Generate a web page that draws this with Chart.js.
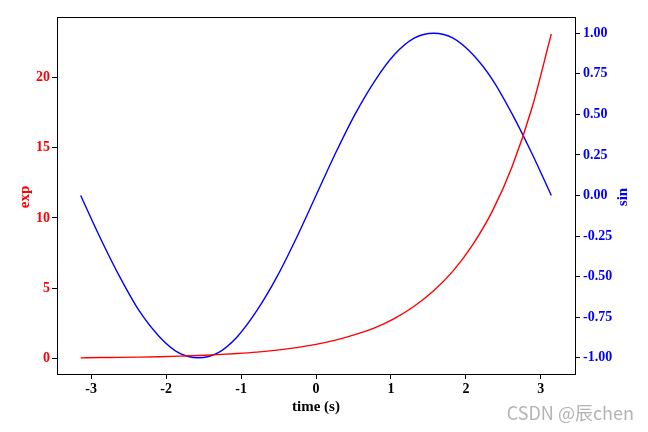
<!DOCTYPE html>
<html>
<head>
<meta charset="UTF-8" />
<script src="https://cdn.jsdelivr.net/npm/chart.js"></script>
<style>
  html, body { margin: 0; padding: 0; background: #fff; }
  #wrap { width: 648px; height: 432px; }
</style>
</head>
<body>
<div id="wrap"><canvas id="c" width="648" height="432"></canvas></div>
<script>
  // values, x in steps of 15 degrees from -pi to pi
  const timeS = [-3.14, -2.88, -2.62, -2.36, -2.09, -1.83, -1.57, -1.31, -1.05, -0.79, -0.52, -0.26, 0,
                 0.26, 0.52, 0.79, 1.05, 1.31, 1.57, 1.83, 2.09, 2.36, 2.62, 2.88, 3.14];
  const expVals = [0.04, 0.06, 0.07, 0.09, 0.12, 0.16, 0.21, 0.27, 0.35, 0.45, 0.59, 0.77, 1.0,
                   1.30, 1.69, 2.19, 2.85, 3.71, 4.81, 6.23, 8.08, 10.55, 13.7, 17.8, 23.1];
  const sinVals = [0, -0.26, -0.5, -0.71, -0.87, -0.97, -1.0, -0.97, -0.87, -0.71, -0.5, -0.26, 0,
                   0.26, 0.5, 0.71, 0.87, 0.97, 1.0, 0.97, 0.87, 0.71, 0.5, 0.26, 0];
  const xTicks = [-3, -2, -1, 0, 1, 2, 3];
  const expTicks = [0, 5, 10, 15, 20];
  const sinTicks = [-1, -0.75, -0.5, -0.25, 0, 0.25, 0.5, 0.75, 1];

  const serif = "'Liberation Serif', 'DejaVu Serif', serif";
  const tickFont = { family: serif, size: 14, weight: 'bold' };

  function pts(ys) { return timeS.map((x, i) => ({ x: x, y: ys[i] })); }

  // frame + axis titles + watermark
  const extras = {
    id: 'extras',
    afterDraw(chart) {
      const ctx = chart.ctx, a = chart.chartArea;
      ctx.save();
      ctx.strokeStyle = '#000';
      ctx.lineWidth = 1;
      ctx.strokeRect(a.left + 0.5, a.top + 0.5, a.right - a.left, a.bottom - a.top);

      ctx.textAlign = 'center';
      ctx.textBaseline = 'middle';
      ctx.font = "bold 15px " + serif;
      ctx.fillStyle = '#000';
      ctx.fillText('time (s)', (a.left + a.right) / 2, 407);

      ctx.save();
      ctx.translate(25, 197);
      ctx.rotate(-Math.PI / 2);
      ctx.fillStyle = 'red';
      ctx.fillText('exp', 0, 0);
      ctx.restore();

      ctx.save();
      ctx.translate(623, 197);
      ctx.rotate(-Math.PI / 2);
      ctx.fillStyle = 'blue';
      ctx.fillText('sin', 0, 0);
      ctx.restore();

      ctx.font = "18px 'Noto Sans CJK SC', 'Noto Sans', sans-serif";
      ctx.fillStyle = '#b4b4b4';
      ctx.textAlign = 'right';
      ctx.fillText('CSDN @辰chen', 634, 413);
      ctx.restore();
    }
  };

  new Chart(document.getElementById('c'), {
    type: 'line',
    data: {
      datasets: [
        { label: 'exp', data: pts(expVals), yAxisID: 'y', borderColor: 'red', borderWidth: 1.4,
          pointRadius: 0, cubicInterpolationMode: 'monotone' },
        { label: 'sin', data: pts(sinVals), yAxisID: 'y2', borderColor: 'blue', borderWidth: 1.4,
          pointRadius: 0, cubicInterpolationMode: 'monotone' }
      ]
    },
    options: {
      responsive: false,
      animation: false,
      layout: { padding: { top: 17, left: 0, right: 0, bottom: 0 } },
      plugins: { legend: { display: false }, tooltip: { enabled: false } },
      scales: {
        x: {
          type: 'linear', min: -3.456, max: 3.456,
          afterBuildTicks: s => { s.ticks = xTicks.map(v => ({ value: v })); },
          afterFit: s => { s.height = 58; },
          grid: { drawOnChartArea: false, tickLength: 5, color: '#000' },
          border: { color: '#000' },
          ticks: { color: '#000', font: tickFont, padding: 2, maxRotation: 0 }
        },
        y: {
          position: 'left', min: -1.11, max: 24.3,
          afterBuildTicks: s => { s.ticks = expTicks.map(v => ({ value: v })); },
          afterFit: s => { s.width = 57; },
          grid: { drawOnChartArea: false, tickLength: 5, color: '#000' },
          border: { color: '#000' },
          ticks: { color: 'red', font: tickFont, padding: 2 }
        },
        y2: {
          position: 'right', min: -1.1, max: 1.1,
          afterBuildTicks: s => { s.ticks = sinTicks.map(v => ({ value: v })); },
          afterFit: s => { s.width = 73; },
          grid: { drawOnChartArea: false, tickLength: 5, color: '#000' },
          border: { color: '#000' },
          ticks: { color: 'blue', font: tickFont, padding: 3, callback: v => v.toFixed(2) }
        }
      }
    },
    plugins: [extras]
  });
</script>
</body>
</html>
